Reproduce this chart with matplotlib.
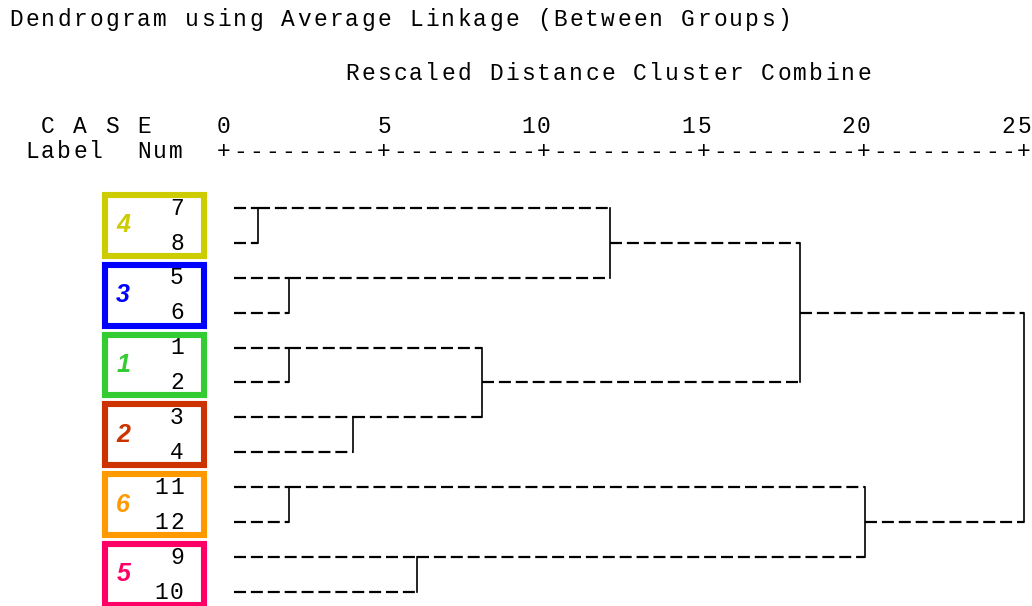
import matplotlib.pyplot as plt
import numpy as np
from matplotlib.patches import Rectangle

# Data
case_order = [7, 8, 5, 6, 1, 2, 3, 4, 11, 12, 9, 10]
# merges, new cluster ids start at 13
merge_left = [7, 5, 1, 11, 3, 9, 15, 13, 20, 16, 21]
merge_right = [8, 6, 2, 12, 4, 10, 17, 14, 19, 18, 22]
merge_dist = [1.06, 2.03, 2.03, 2.03, 4.03, 6.03, 8.06, 12.06, 18.0, 20.03, 25.0]

ticks = [0, 5, 10, 15, 20, 25]
group_labels = ['4', '3', '1', '2', '6', '5']
group_colors = ['#cccc00', '#0000ff', '#33cc33', '#cc3300', '#ff9900', '#ff0066']

W, H = 1032, 606
fig = plt.figure(figsize=(W / 100, H / 100), dpi=100)
ax = fig.add_axes([0, 0, 1, 1])
ax.axis('off')

# pixel layout: x=0 at 224px, 32px per unit; row 0 at 208px, 34.9px per row
x0, xs = 224, 32.0
y0, ys = 208, 34.9
ax.set_xlim(-x0 / xs, (W - x0) / xs)
ax.set_ylim((H - y0) / ys, -y0 / ys)

mono = 'Liberation Mono'
fs = 16.5
cell = 16  # px per character, like the text output


def fy(py):
    return 1 - py / H


def grid_text(px, py, s, **kw):
    # one char per 16px cell, starting at px
    for i, ch in enumerate(s):
        if ch != ' ':
            fig.text((px + cell * i + cell / 2) / W, fy(py), ch, family=mono,
                     fontsize=fs, ha='center', va='baseline', **kw)


# header text
grid_text(8, 26, 'Dendrogram using Average Linkage (Between Groups)')
grid_text(344, 80, 'Rescaled Distance Cluster Combine')
grid_text(40, 133, 'C A S E')
grid_text(24, 158, 'Label  Num')

trans = ax.get_xaxis_transform()
half = cell / xs  # one char in data units
for t in ticks:
    lab = str(t)
    for j, ch in enumerate(reversed(lab)):
        ax.text(t - j * half, fy(133), ch, transform=trans, family=mono,
                fontsize=fs, ha='center', va='baseline')
axis_str = '+' + ('-' * 9 + '+') * (len(ticks) - 1)
for i, ch in enumerate(axis_str):
    ax.text(ticks[0] + i * half, fy(158), ch, transform=trans, family=mono,
            fontsize=fs, ha='center', va='baseline')

# dendrogram
rows = {c: i for i, c in enumerate(case_order)}
start = {c: 0.3125 for c in case_order}
dash = (0, (5.4, 2.2))
for k, (a, b, d) in enumerate(zip(merge_left, merge_right, merge_dist)):
    new = 13 + k
    for c in (a, b):
        ax.plot([start[c], d], [rows[c], rows[c]], color='black', lw=1.6,
                linestyle=dash, dash_capstyle='butt')
    ax.plot([d, d], [rows[a], rows[b]], color='black', lw=1.2)
    rows[new] = (rows[a] + rows[b]) // 2
    start[new] = d

# case numbers
for i, c in enumerate(case_order):
    for j, ch in enumerate(reversed(str(c))):
        ax.text(-1.47 - j * half, i + 0.19, ch, family=mono, fontsize=fs,
                ha='center', va='baseline')

# coloured group boxes
for g, (lab, col) in enumerate(zip(group_labels, group_colors)):
    r0 = 2 * g
    ax.add_patch(Rectangle((-3.72, r0 - 0.37), 3.1, 1.74, fill=False,
                           edgecolor=col, lw=4.4, clip_on=False))
    ax.text(-3.15, r0 + 0.5, lab, color=col, family='Liberation Sans',
            fontsize=18, fontweight='bold', fontstyle='italic',
            ha='center', va='center')

fig.savefig('out.png', dpi=100)
